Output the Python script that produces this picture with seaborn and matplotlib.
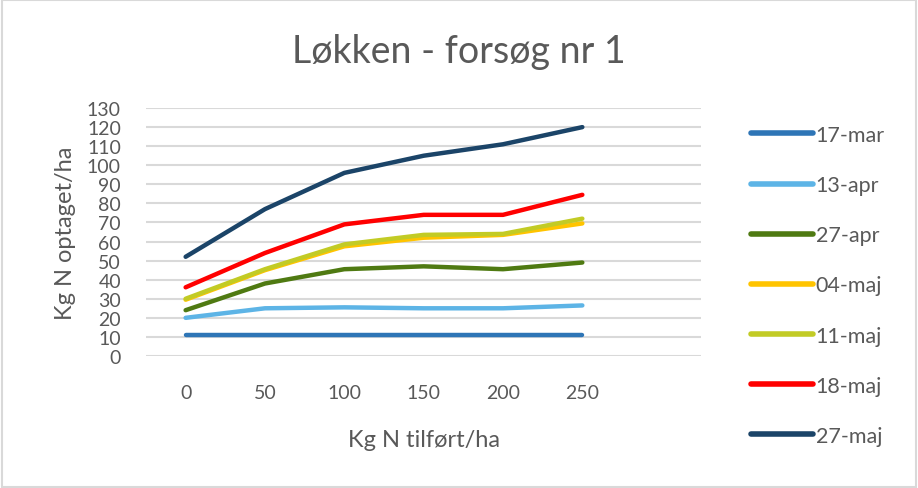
import seaborn as sns
import matplotlib.pyplot as plt
import pandas as pd

# data
doser = ["0", "50", "100", "150", "200", "250"]
datoer = ["17-mar", "13-apr", "27-apr", "04-maj", "11-maj", "18-maj", "27-maj"]
mar17 = [11, 11, 11, 11, 11, 11]
apr13 = [20, 25, 25.5, 25, 25, 26.5]
apr27 = [24, 38, 45.5, 47, 45.5, 49]
maj04 = [29.5, 45, 57.5, 62, 63.5, 69.5]
maj11 = [30, 45.5, 58.5, 63.5, 64, 72]
maj18 = [36, 54, 69, 74, 74, 84.5]
maj27 = [52, 77, 96, 105, 111, 120]
serier = [mar17, apr13, apr27, maj04, maj11, maj18, maj27]
farver = ["#2E75B6", "#5DB4E6", "#4F7A12", "#FFC400", "#C2CB25", "#FF0000", "#1B4468"]

rows = []
for d, s in zip(datoer, serier):
    for x, v in zip(doser, s):
        rows.append({"dosis": x, "optag": v, "dato": d})
df = pd.DataFrame(rows)

sns.set_style("white")
plt.rcParams["font.family"] = ["Lato", "DejaVu Sans"]
grå = "#595959"

fig = plt.figure(figsize=(9.18, 4.89), dpi=100)
ax = fig.add_axes([0.159, 0.27, 0.605, 0.507])

sns.lineplot(data=df, x="dosis", y="optag", hue="dato", hue_order=datoer,
             palette=farver, linewidth=3.2, sort=False, ax=ax,
             solid_capstyle="round", legend=False)

ax.set_xlim(-0.5, 6.5)
ax.set_ylim(0, 130)
ax.set_yticks(range(0, 131, 10))
ax.set_xticks(range(len(doser)))
ax.set_xticklabels(doser)
ax.yaxis.grid(True, color="#D9D9D9", linewidth=1.5)
ax.set_axisbelow(True)
for sp in ax.spines.values():
    sp.set_visible(False)
ax.tick_params(axis="both", length=0, labelsize=14, colors=grå)
ax.tick_params(axis="y", pad=18)
ax.tick_params(axis="x", pad=20)
ax.set_xlabel("Kg N tilført/ha", fontsize=17, color=grå, labelpad=20)
ax.set_ylabel("Kg N optaget/ha", fontsize=17, color=grå, labelpad=8)

fig.text(0.5, 0.894, "Løkken - forsøg nr 1", ha="center", va="center",
         fontsize=27, color=grå)

# legend
handles = [plt.Line2D([], [], color=c, linewidth=4, solid_capstyle="round") for c in farver]
fig.legend(handles, datoer, loc="upper left", bbox_to_anchor=(0.797, 0.782),
           frameon=False, fontsize=15.5, labelcolor=grå, handlelength=2.9,
           handletextpad=0.1, labelspacing=1.4)

# chart border
fig.patches.append(plt.Rectangle((0.002, 0.003), 0.996, 0.994, transform=fig.transFigure,
                                 fill=False, edgecolor="#D9D9D9", linewidth=1.5))

plt.savefig("out.png", dpi=100)
